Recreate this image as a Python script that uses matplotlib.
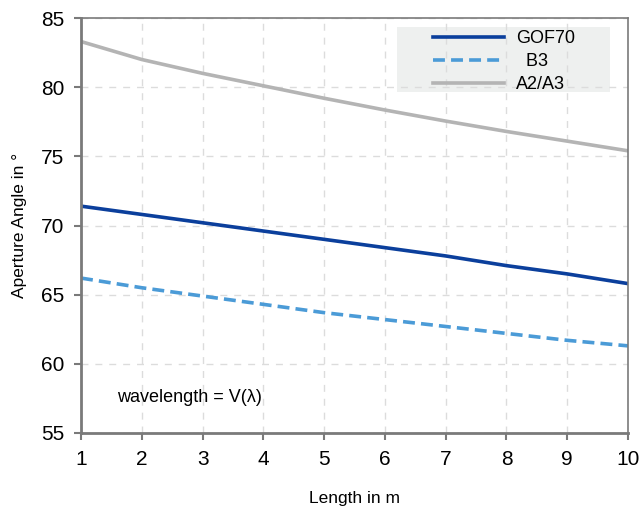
import matplotlib.pyplot as plt
from matplotlib.patches import Rectangle

plt.rcParams['font.family'] = ['Liberation Sans', 'DejaVu Sans']

length = [1, 2, 3, 4, 5, 6, 7, 8, 9, 10]
gof70 = [71.4, 70.8, 70.2, 69.6, 69.0, 68.4, 67.8, 67.1, 66.5, 65.8]
b3 = [66.2, 65.5, 64.9, 64.3, 63.7, 63.2, 62.7, 62.2, 61.7, 61.3]
a2a3 = [83.3, 82.0, 81.0, 80.1, 79.2, 78.35, 77.55, 76.8, 76.1, 75.4]

fig = plt.figure(figsize=(6.41, 5.12), dpi=100)
ax = fig.add_axes([0.1264, 0.1543, 0.8533, 0.8105])

ax.plot(length, gof70, color='#0b3f9c', lw=2.6, label='GOF70')
ax.plot(length, b3, color='#4b9bd7', lw=2.6, ls=(0, (3.3, 1.7)), label='  B3')
ax.plot(length, a2a3, color='#b4b4b4', lw=2.6, label='A2/A3')

ax.set_xlim(1, 10)
ax.set_ylim(55, 85)
ax.set_xticks(length)
ax.set_yticks(range(55, 86, 5))
ax.tick_params(labelsize=15, color='#7a7a7a', length=5, width=1.5, pad=7)
ax.grid(True, color='#dcdcdc', ls=(0, (5, 5)), lw=1)

for side in ['left', 'bottom']:
    ax.spines[side].set_color('#7a7a7a')
    ax.spines[side].set_linewidth(2)
for side in ['top', 'right']:
    ax.spines[side].set_color('#7a7a7a')
    ax.spines[side].set_linewidth(1.2)

ax.set_xlabel('Length in m', fontsize=12.5, labelpad=16)
ax.set_ylabel('Aperture Angle in °', fontsize=12.5, labelpad=10)

ax.text(1.6, 57.6, 'wavelength = V(λ)', fontsize=13, va='center')

# legend background box
ax.add_patch(Rectangle((0.578, 0.822), 0.389, 0.156, transform=ax.transAxes,
                       facecolor='#eef0ef', edgecolor='none', zorder=1.5))

leg = ax.legend(loc='upper left', bbox_to_anchor=(0.627, 0.992), fontsize=13,
                handlelength=3.93, frameon=False, borderpad=0,
                labelspacing=0.33, handletextpad=0.67)
leg.set_zorder(3)

fig.savefig('out.png', dpi=100)
